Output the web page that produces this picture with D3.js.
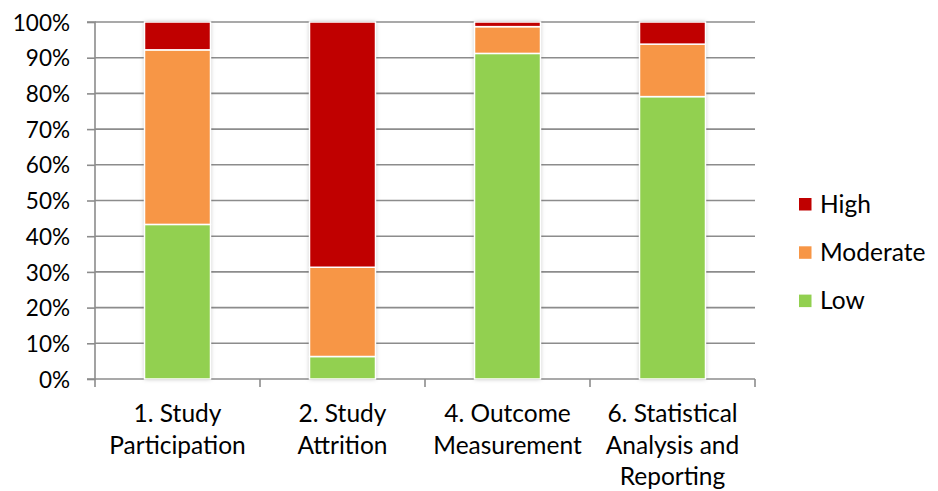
<!DOCTYPE html>
<html>
<head>
<meta charset="utf-8">
<script src="https://cdn.jsdelivr.net/npm/d3@7"></script>
<style>
  html, body { margin: 0; padding: 0; background: #fff; }
  svg text { font-family: Lato, "Open Sans", sans-serif; fill: #000; }
</style>
</head>
<body>
<svg id="chart" width="938" height="491"></svg>
<script>
// Risk-of-bias domains (categories), each stacked to 100%
const categories = [
  ["1. Study", "Participation"],
  ["2. Study", "Attrition"],
  ["4. Outcome", "Measurement"],
  ["6. Statistical", "Analysis and", "Reporting"]
];
const lowValues      = [43.3, 6.3, 91.2, 79.1];
const moderateValues = [48.9, 25.0, 7.5, 14.7];
const highValues     = [7.8, 68.7, 1.3, 6.2];
const seriesNames  = ["Low", "Moderate", "High"];
const seriesColors = ["#92D050", "#F79646", "#C00000"];
const yTicks = [0, 10, 20, 30, 40, 50, 60, 70, 80, 90, 100];

const svg = d3.select("#chart");
const plotLeft = 95, plotRight = 755, plotTop = 22, plotBottom = 379;

const defs = svg.append("defs");
const f = defs.append("filter").attr("id", "shadow")
  .attr("x", "-20%").attr("y", "-5%").attr("width", "140%").attr("height", "110%");
f.append("feDropShadow").attr("dx", 0).attr("dy", 0)
  .attr("stdDeviation", 2.2).attr("flood-color", "#000").attr("flood-opacity", 0.28);

const keys = categories.map((c, i) => i);
const x = d3.scaleBand().domain(keys).range([plotLeft, plotRight]).paddingInner(0.6).paddingOuter(0.3);
const xOuter = d3.scaleBand().domain(keys).range([plotLeft, plotRight]);
const y = d3.scaleLinear().domain([0, 100]).range([plotBottom, plotTop]);

// horizontal gridlines
svg.append("g").selectAll("line").data(yTicks.filter(t => t > 0)).join("line")
  .attr("x1", plotLeft).attr("x2", plotRight)
  .attr("y1", d => y(d)).attr("y2", d => y(d))
  .attr("stroke", "#8c8c8c").attr("stroke-width", 1.6);

// y axis
const yAxis = d3.axisLeft(y).tickValues(yTicks).tickFormat(d => d + "%").tickSize(8).tickPadding(17);
const gy = svg.append("g").attr("transform", `translate(${plotLeft},0)`).call(yAxis);
gy.select(".domain").attr("stroke", "#8c8c8c").attr("stroke-width", 1.6).attr("d", `M-8,${plotTop}H0V${plotBottom}H-8`);
gy.selectAll(".tick line").attr("stroke", "#8c8c8c").attr("stroke-width", 1.6);
gy.selectAll(".tick text").attr("font-size", 22.5).attr("font-family", "Lato, sans-serif").attr("fill", "#000").attr("dy", "0.36em");

// x axis baseline and category ticks
const xTickPos = keys.map(k => xOuter(k)).concat([plotRight]);
svg.append("line").attr("x1", plotLeft).attr("x2", plotRight).attr("y1", plotBottom).attr("y2", plotBottom)
  .attr("stroke", "#8c8c8c").attr("stroke-width", 1.6);
svg.append("g").selectAll("line").data(xTickPos).join("line")
  .attr("x1", d => d).attr("x2", d => d).attr("y1", plotBottom).attr("y2", plotBottom + 8)
  .attr("stroke", "#8c8c8c").attr("stroke-width", 1.6);

// stacked bars
const rows = keys.map(i => ({ i, Low: lowValues[i], Moderate: moderateValues[i], High: highValues[i] }));
const stack = d3.stack().keys(seriesNames)(rows);
const color = d3.scaleOrdinal().domain(seriesNames).range(seriesColors);

const barsG = svg.append("g");
barsG.selectAll("rect.shadow").data(keys).join("rect")
  .attr("x", d => x(d)).attr("width", x.bandwidth())
  .attr("y", y(100)).attr("height", y(0) - y(100))
  .attr("fill", "#fff").attr("filter", "url(#shadow)");
barsG.selectAll("g.series").data(stack).join("g")
  .attr("fill", d => color(d.key))
  .selectAll("rect").data(d => d).join("rect")
  .attr("x", d => x(d.data.i)).attr("width", x.bandwidth())
  .attr("y", d => y(d[1])).attr("height", d => y(d[0]) - y(d[1]))
  .attr("stroke", "#fff").attr("stroke-width", 1.5);

// category labels
const lab = svg.append("g").selectAll("text").data(keys).join("text")
  .attr("text-anchor", "middle").attr("font-size", 24.5)
  .attr("transform", d => `translate(${xOuter(d) + xOuter.bandwidth() / 2},422)`);
lab.selectAll("tspan").data(d => categories[d]).join("tspan")
  .attr("x", 0).attr("dy", (d, i) => i === 0 ? 0 : 31.5).text(d => d);

// legend (High on top)
const legendItems = seriesNames.slice().reverse();
const lg = svg.append("g").selectAll("g").data(legendItems).join("g")
  .attr("transform", (d, i) => `translate(799,${204 + i * 48.3})`);
lg.append("rect").attr("x", 0).attr("y", -6).attr("width", 12.5).attr("height", 12.5)
  .attr("fill", d => color(d));
lg.append("text").attr("x", 21).attr("y", 0).attr("dy", "0.36em")
  .attr("font-size", 24.5).text(d => d);
</script>
</body>
</html>
